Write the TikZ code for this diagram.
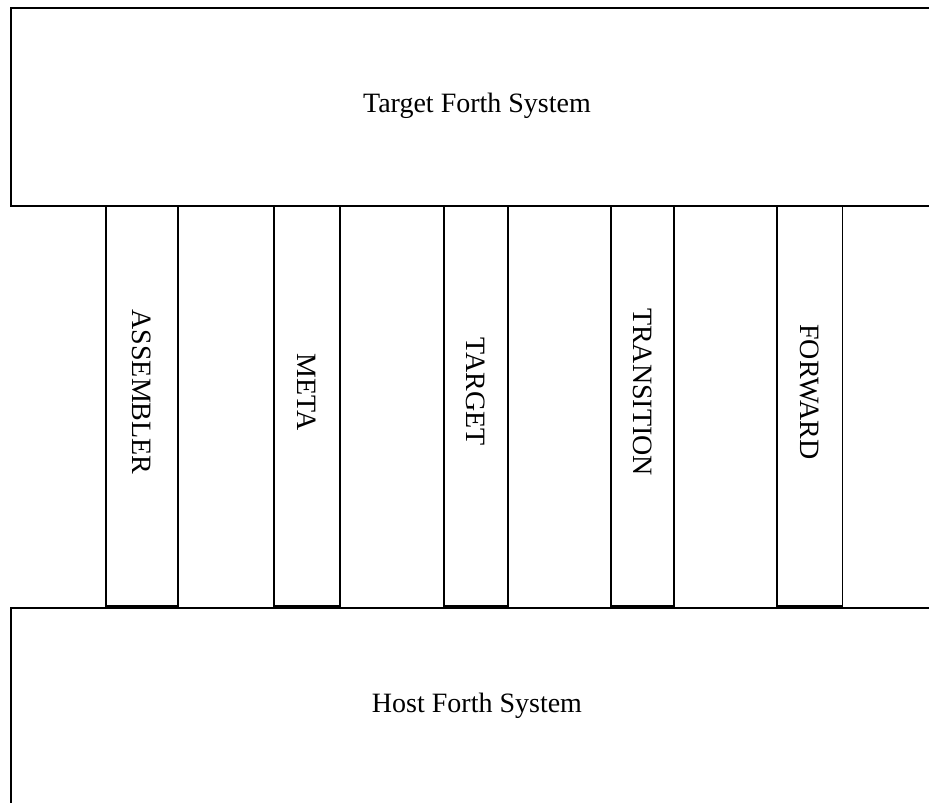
\documentclass[tikz,border=0pt]{standalone}
\usepackage{fontspec}
\setmainfont{Liberation Serif}
\usetikzlibrary{positioning}

\begin{document}
\begin{tikzpicture}[x=1pt, y=-1pt,
    sysbox/.style={draw, line width=1.6pt, minimum width=934pt, inner sep=0pt},
    layerbox/.style={draw, line width=1.6pt, minimum height=400pt, inner sep=0pt},
    layertext/.style={rotate=-90, font=\fontsize{28}{30}\selectfont}]
    \useasboundingbox (0,0) rectangle (929,803);
    \node[sysbox, minimum height=198pt, anchor=north west] (target) at (10,7) {};
    \node[font=\fontsize{28}{30}\selectfont] at (477,106) {Target Forth System};
    \node[sysbox, minimum height=210pt, anchor=north west] (host) at (10,607) {};
    \node[font=\fontsize{28}{30}\selectfont] at (477,706) {Host Forth System};
\foreach \x/\w/\n/\t in {142/72/asm/ASSEMBLER, 307/66/meta/META, 476/64/tgt/TARGET,
    642.5/63/trans/TRANSITION, 809.75/65.5/fwd/FORWARD} {
    \node[layerbox, minimum width=\w pt] (\n) at (\x,406) {};
    \node[layertext] (\n-label) at (\x,392) {\t};
}
\end{tikzpicture}
\end{document}
